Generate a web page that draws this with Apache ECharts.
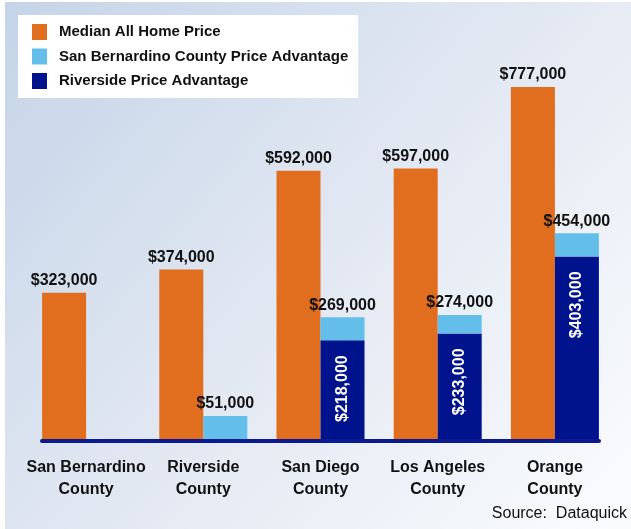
<!DOCTYPE html>
<html>
<head>
<meta charset="utf-8">
<script src="https://cdn.jsdelivr.net/npm/echarts@6/dist/echarts.min.js"></script>
<style>
  html, body { margin: 0; padding: 0; background: #fff; }
  #main { width: 631px; height: 529px; }
</style>
</head>
<body>
<div id="main"></div>
<script>
var counties = ['San Bernardino\nCounty', 'Riverside\nCounty', 'San Diego\nCounty', 'Los Angeles\nCounty', 'Orange\nCounty'];
var medianPrice = [323000, 374000, 592000, 597000, 777000];
var sbAdvantage = [0, 51000, 269000, 274000, 454000];
var rivAdvantage = [0, 0, 218000, 233000, 403000];

var FONT = '"Liberation Sans", Arial, sans-serif';

function money(v) {
  return '$' + v.toLocaleString('en-US');
}

// light blue part sits on top of the dark blue one, so only the remainder is stacked
var sbRemainder = sbAdvantage.map(function(v, i) {
  return v - rivAdvantage[i];
});

var chart = echarts.init(document.getElementById('main'));
chart.setOption({
  backgroundColor: '#ffffff',
  animation: false,
  graphic: [{
    type: 'rect',
    left: 5,
    top: 2,
    z: -10,
    silent: true,
    shape: { width: 626, height: 527 },
    style: {
      fill: new echarts.graphic.LinearGradient(0, 0, 1, 1, [
        { offset: 0, color: '#c4d4e8' },
        { offset: 0.5, color: '#e2e8f2' },
        { offset: 1, color: '#fbfcfe' }
      ])
    }
  }],
  title: {
    text: 'Source:  Dataquick',
    right: -1,
    bottom: 2,
    textStyle: { fontFamily: FONT, fontSize: 16, fontWeight: 'normal', color: '#111' }
  },
  legend: {
    orient: 'vertical',
    left: 18,
    top: 15,
    backgroundColor: '#ffffff',
    padding: [9, 10, 9, 14],
    itemWidth: 15,
    itemHeight: 16,
    itemGap: 8.5,
    icon: 'rect',
    data: ['Median All Home Price', 'San Bernardino County Price Advantage', 'Riverside Price Advantage'],
    textStyle: { fontFamily: FONT, fontSize: 15, fontWeight: 'bold', color: '#111', padding: [0, 0, 0, 7] }
  },
  grid: [
    { left: 27.5, right: 17.5, top: 76.6, bottom: 90 },
    { left: 42, right: 32, top: 76.6, bottom: 88 }
  ],
  xAxis: [{
    type: 'category',
    gridIndex: 0,
    data: counties,
    axisLine: { show: false },
    axisTick: { show: false },
    axisLabel: {
      interval: 0,
      hideOverlap: false,
      margin: 18,
      fontFamily: FONT,
      fontSize: 16,
      fontWeight: 'bold',
      lineHeight: 22,
      color: '#111'
    }
  }, {
    type: 'category',
    gridIndex: 1,
    data: counties,
    axisLine: { show: true, lineStyle: { color: '#0b1a8e', width: 4 } },
    axisTick: { show: false },
    axisLabel: { show: false }
  }],
  yAxis: [{
    type: 'value',
    gridIndex: 0,
    min: 0,
    max: 800000,
    show: false
  }, {
    type: 'value',
    gridIndex: 1,
    min: 0,
    max: 800000,
    show: false
  }],
  series: [{
    name: 'Median All Home Price',
    type: 'bar',
    barWidth: 44,
    barGap: '0%',
    data: medianPrice,
    itemStyle: { color: '#e16d1f' },
    label: {
      show: true,
      position: 'top',
      distance: 4,
      fontFamily: FONT,
      fontSize: 16,
      fontWeight: 'bold',
      color: '#111',
      formatter: function(p) { return money(p.value); }
    }
  }, {
    name: 'Riverside Price Advantage',
    type: 'bar',
    stack: 'adv',
    barWidth: 44,
    data: rivAdvantage,
    itemStyle: { color: '#00128c' },
    label: {
      show: true,
      position: 'insideTop',
      distance: 15,
      rotate: 90,
      align: 'right',
      verticalAlign: 'middle',
      fontFamily: FONT,
      fontSize: 16,
      fontWeight: 'bold',
      color: '#ffffff',
      formatter: function(p) { return p.value > 0 ? money(p.value) : ''; }
    }
  }, {
    name: 'San Bernardino County Price Advantage',
    type: 'bar',
    stack: 'adv',
    barWidth: 44,
    data: sbRemainder,
    itemStyle: { color: '#63bfea' },
    label: {
      show: true,
      position: 'top',
      distance: 4,
      fontFamily: FONT,
      fontSize: 16,
      fontWeight: 'bold',
      color: '#111',
      formatter: function(p) {
        var total = sbAdvantage[p.dataIndex];
        return total > 0 ? money(total) : '';
      }
    }
  }]
});
</script>
</body>
</html>
